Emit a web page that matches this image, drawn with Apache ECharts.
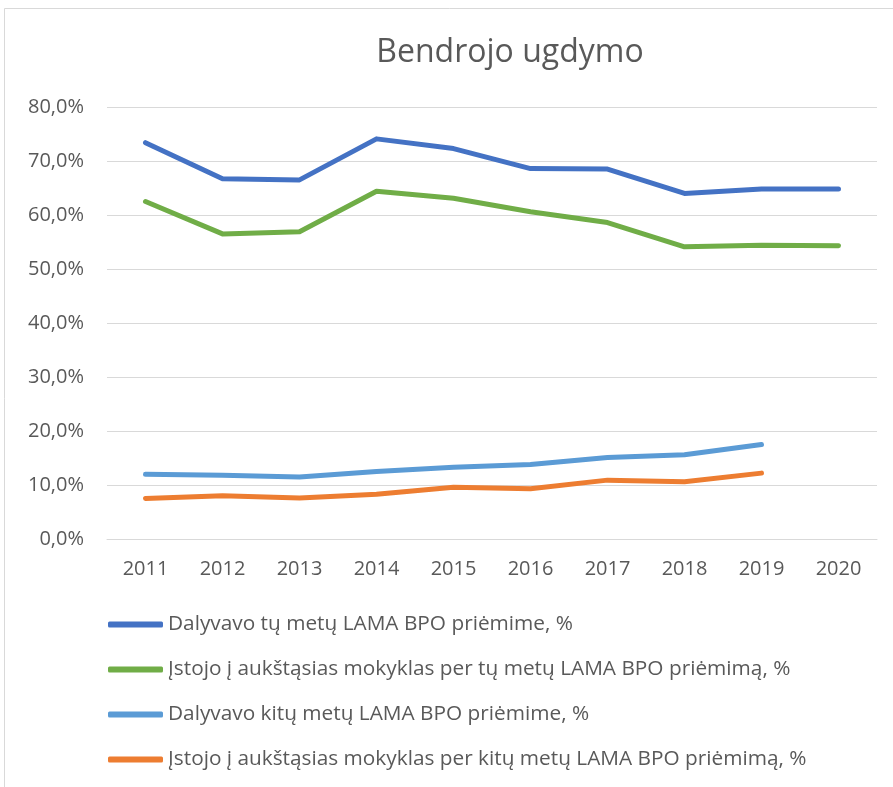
<!DOCTYPE html>
<html>
<head>
<meta charset="utf-8">
<script src="https://cdn.jsdelivr.net/npm/echarts@6/dist/echarts.min.js"></script>
<style>
  html, body { margin: 0; padding: 0; background: #fff; }
  #chart { width: 893px; height: 787px; }
</style>
</head>
<body>
<div id="chart"></div>
<script>
// metai
const years = ['2011', '2012', '2013', '2014', '2015', '2016', '2017', '2018', '2019', '2020'];

// reikšmės, %
const dalyvavoTu = [73.4, 66.7, 66.5, 74.1, 72.3, 68.6, 68.5, 64.0, 64.8, 64.8];
const istojoTu = [62.5, 56.5, 56.9, 64.4, 63.1, 60.6, 58.6, 54.1, 54.4, 54.3];
const dalyvavoKitu = [12.0, 11.8, 11.5, 12.5, 13.3, 13.8, 15.1, 15.6, 17.5, null];
const istojoKitu = [7.5, 8.0, 7.6, 8.3, 9.6, 9.3, 10.9, 10.6, 12.2, null];

const seriesNames = [
  'Dalyvavo tų metų LAMA BPO priėmime, %',
  'Įstojo į aukštąsias mokyklas per tų metų LAMA BPO priėmimą, %',
  'Dalyvavo kitų metų LAMA BPO priėmime, %',
  'Įstojo į aukštąsias mokyklas per kitų metų LAMA BPO priėmimą, %'
];
const seriesData = [dalyvavoTu, istojoTu, dalyvavoKitu, istojoKitu];
const colors = ['#4472C4', '#70AD47', '#5B9BD5', '#ED7D31'];

const font = '"Open Sans", "Noto Sans", sans-serif';

const chart = echarts.init(document.getElementById('chart'));

const option = {
  animation: false,
  color: colors,
  title: {
    text: 'Bendrojo ugdymo',
    left: 505,
    textAlign: 'center',
    top: 32,
    textStyle: { fontFamily: font, fontSize: 32, fontWeight: 'normal', color: '#595959' }
  },
  graphic: [{
    type: 'rect',
    shape: { x: 4.5, y: 8.5, width: 900, height: 800 },
    style: { fill: 'none', stroke: '#d9d9d9', lineWidth: 1 },
    silent: true
  }],
  grid: { left: 107, right: 16, top: 107, height: 432 },
  xAxis: {
    type: 'category',
    data: years,
    boundaryGap: true,
    axisLine: { lineStyle: { color: '#d9d9d9', width: 1 } },
    axisTick: { show: false },
    axisLabel: { fontFamily: font, fontSize: 20, color: '#595959', margin: 20 }
  },
  yAxis: {
    type: 'value',
    min: 0,
    max: 80,
    interval: 10,
    axisLine: { show: false },
    axisTick: { show: false },
    splitLine: { lineStyle: { color: '#d9d9d9', width: 1 } },
    axisLabel: {
      fontFamily: font, fontSize: 20, color: '#595959', margin: 23,
      formatter: v => v.toFixed(1).replace('.', ',') + '%'
    }
  },
  legend: {
    orient: 'vertical',
    left: 103,
    top: 609,
    itemGap: 24,
    itemWidth: 55,
    itemHeight: 6,
    icon: 'roundRect',
    textStyle: { fontFamily: font, fontSize: 20.8, color: '#595959' },
    data: seriesNames
  },
  series: seriesData.map((d, i) => ({
    name: seriesNames[i],
    type: 'line',
    data: d,
    symbol: 'none',
    connectNulls: false,
    lineStyle: { width: 5, cap: 'round', join: 'round', color: colors[i] }
  }))
};

chart.setOption(option);
</script>
</body>
</html>
